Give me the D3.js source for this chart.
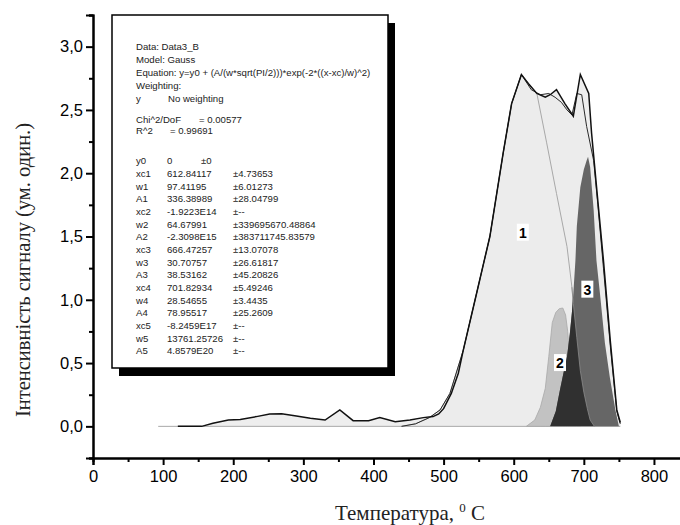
<!DOCTYPE html>
<html lang="uk">
<head>
<meta charset="UTF-8">
<script src="https://d3js.org/d3.v7.min.js"></script>
<style>
  body { margin: 0; background: #fff; }
  svg { display: block; }
</style>
</head>
<body>
<div id="chart"></div>
<script>
// measured curve (temperature, signal)
var dataT = [121, 155, 171, 193, 210, 233, 252, 269, 290, 310, 331, 352, 371, 393, 409, 431, 452, 471, 485, 493,
             500, 511, 521, 528, 547, 566, 585, 597, 611, 622, 633, 645, 652, 661, 673, 685, 695, 707, 711, 719,
             728, 738, 747, 752];
var dataY = [0, 0, 0.025, 0.05, 0.055, 0.077, 0.098, 0.10, 0.082, 0.064, 0.05, 0.13, 0.045, 0.045, 0.069, 0.037, 0.05, 0.069, 0.077, 0.098,
             0.14, 0.26, 0.42, 0.6, 1.05, 1.5, 2.16, 2.55, 2.78, 2.7, 2.63, 2.6, 2.62, 2.66, 2.55, 2.45, 2.78, 2.63, 2.32, 1.84,
             1.31, 0.66, 0.13, 0.03];

// cumulative fit
var fitT = [440, 460, 480, 495, 509, 528, 547, 566, 585, 597, 611, 625, 638, 650, 659, 668, 676, 683, 690, 697, 704, 714, 720, 728, 738, 747, 752];
var fitY = [0, 0.02, 0.07, 0.13, 0.26, 0.6, 1.05, 1.5, 2.16, 2.55, 2.78, 2.66, 2.62, 2.63, 2.6, 2.56, 2.5, 2.46, 2.63, 2.62, 2.37, 2.1, 1.75, 1.25, 0.62, 0.12, 0.02];

// peak 1
var p1T = [440, 460, 480, 495, 509, 528, 547, 566, 585, 597, 611, 633, 647, 661, 676, 683, 685, 690, 695, 700, 705, 709, 715];
var p1Y = [0, 0.02, 0.07, 0.13, 0.26, 0.6, 1.05, 1.5, 2.16, 2.55, 2.78, 2.63, 2.24, 1.84, 1.42, 1.10, 0.97, 0.7, 0.44, 0.27, 0.14, 0.05, 0];

// peak 2
var p2T = [618, 630, 638, 645, 650, 655, 660, 665, 670, 674, 677, 680, 683, 686, 690, 695];
var p2Y = [0, 0.05, 0.15, 0.3, 0.55, 0.82, 0.9, 0.93, 0.935, 0.88, 0.75, 0.55, 0.3, 0.12, 0.02, 0];

// peak 3
var p3T = [652, 660, 666, 672, 676, 680, 683, 685, 688, 690, 695, 700, 704, 706, 709, 714, 718, 723, 730, 737, 745, 750];
var p3Y = [0, 0.12, 0.29, 0.45, 0.55, 0.73, 0.9, 1.05, 1.31, 1.58, 1.89, 2.03, 2.10, 2.13, 2.05, 1.71, 1.31, 1.05, 0.66, 0.39, 0.13, 0];

var yTicks = [0, 0.5, 1, 1.5, 2, 2.5, 3];
var xTicks = [0, 100, 200, 300, 400, 500, 600, 700, 800];

var headerRows = [
  ["Data: Data3_B"],
  ["Model: Gauss"],
  ["Equation: y=y0 + (A/(w*sqrt(PI/2)))*exp(-2*((x-xc)/w)^2)"],
  ["Weighting:"],
  ["y", "No weighting"]
];
var statNames = ["Chi^2/DoF", "R^2"];
var statValues = ["= 0.00577", "= 0.99691"];
var parNames = ["y0", "xc1", "w1", "A1", "xc2", "w2", "A2", "xc3", "w3", "A3", "xc4", "w4", "A4", "xc5", "w5", "A5"];
var parValues = ["0", "612.84117", "97.41195", "336.38989", "-1.9223E14", "64.67991", "-2.3098E15", "666.47257",
                 "30.70757", "38.53162", "701.82934", "28.54655", "78.95517", "-8.2459E17", "13761.25726", "4.8579E20"];
var parErrors = ["\u00b10", "\u00b14.73653", "\u00b16.01273", "\u00b128.04799", "\u00b1--", "\u00b1339695670.48864",
                 "\u00b1383711745.83579", "\u00b113.07078", "\u00b126.61817", "\u00b145.20826", "\u00b15.49246",
                 "\u00b13.4435", "\u00b125.2609", "\u00b1--", "\u00b1--", "\u00b1--"];

var peakLabels = ["1", "2", "3"];
var peakLabelPos = [[613, 1.53], [666, 0.5], [705, 1.08]];

var W = 680, H = 525;
var svg = d3.select("#chart").append("svg").attr("width", W).attr("height", H);

var x = d3.scaleLinear().domain([0, 840]).range([93, 682]);
var y = d3.scaleLinear().domain([-0.25, 3.25]).range([458, 15]);

function pts(T, V) { return T.map(function (t, i) { return [t, V[i]]; }); }

var area = d3.area().x(function (d) { return x(d[0]); }).y0(y(0)).y1(function (d) { return y(d[1]); });
var line = d3.line().x(function (d) { return x(d[0]); }).y(function (d) { return y(d[1]); });

// light fill under the measured curve
svg.append("path").datum(pts(dataT, dataY)).attr("d", area).attr("fill", "#eeeeee");
svg.append("path").datum(pts(fitT, fitY)).attr("d", area).attr("fill", "#ececec");

// baseline
svg.append("line").attr("x1", x(93)).attr("x2", x(752)).attr("y1", y(0)).attr("y2", y(0))
  .attr("stroke", "#a8a8a8").attr("stroke-width", 1);

// peak 1 outline
svg.append("path").datum(pts(p1T, p1Y)).attr("d", line).attr("fill", "none").attr("stroke", "#a8a8a8").attr("stroke-width", 1);

// peak 2
svg.append("path").datum(pts(p2T, p2Y)).attr("d", area).attr("fill", "#c2c2c2").attr("stroke", "#a8a8a8").attr("stroke-width", 0.8);

// peak 3
svg.append("path").datum(pts(p3T, p3Y)).attr("d", area).attr("fill", "#666666");

// overlap of peak 3 with peak 1
svg.append("clipPath").attr("id", "p1clip").append("path").datum(pts(p1T, p1Y)).attr("d", area);
svg.append("path").datum(pts(p3T, p3Y)).attr("d", area).attr("fill", "#303030").attr("clip-path", "url(#p1clip)");
svg.append("path").datum(pts(p1T, p1Y).filter(function (d) { return d[0] >= 683; }))
  .attr("d", line).attr("fill", "none").attr("stroke", "#8a8a8a").attr("stroke-width", 0.8);

// fit and data
svg.append("path").datum(pts(fitT, fitY)).attr("d", line).attr("fill", "none").attr("stroke", "#2a2a2a").attr("stroke-width", 1);
svg.append("path").datum(pts(dataT, dataY)).attr("d", line).attr("fill", "none").attr("stroke", "#111").attr("stroke-width", 1.5);

// peak labels
peakLabels.forEach(function (t, i) {
  var cx = x(peakLabelPos[i][0]), cy = y(peakLabelPos[i][1]);
  svg.append("rect").attr("x", cx - 6).attr("y", cy - 9).attr("width", 12).attr("height", 17).attr("fill", "#fff");
  svg.append("text").attr("x", cx).attr("y", cy + 5).attr("text-anchor", "middle")
    .style("font-family", "Liberation Sans, Arial, sans-serif").style("font-weight", "bold").style("font-size", "14px")
    .text(t);
});

// axes
svg.append("g").attr("transform", "translate(93,0)")
  .call(d3.axisLeft(y).tickValues(yTicks).tickSize(7).tickPadding(3)
    .tickFormat(function (d) { return d3.format(".1f")(d).replace(".", ","); }));
svg.append("g").attr("transform", "translate(93,0)")
  .call(d3.axisLeft(y).tickValues(d3.range(-0.25, 3.3, 0.5)).tickSize(4).tickFormat(""));
svg.append("g").attr("transform", "translate(0,458)")
  .call(d3.axisBottom(x).tickValues(xTicks).tickSize(7).tickPadding(5).tickFormat(d3.format("d")));
svg.append("g").attr("transform", "translate(0,458)")
  .call(d3.axisBottom(x).tickValues(d3.range(50, 850, 100)).tickSize(4).tickFormat(""));

svg.selectAll(".domain").attr("stroke", "#000").attr("stroke-width", 2);
svg.selectAll(".tick line").attr("stroke", "#000").attr("stroke-width", 2);
svg.selectAll(".tick text").style("font-family", "Liberation Sans, Arial, sans-serif").style("font-size", "16.5px").attr("fill", "#000");

// axis titles
svg.append("text").attr("transform", "translate(30,270) rotate(-90)").attr("text-anchor", "middle")
  .style("font-family", "Liberation Serif, Times New Roman, serif").style("font-size", "20.5px").attr("fill", "#222")
  .text("Інтенсивність сигналу (ум. один.)");
var xt = svg.append("text").attr("x", 410).attr("y", 520).attr("text-anchor", "middle")
  .style("font-family", "Liberation Serif, Times New Roman, serif").style("font-size", "21px").attr("fill", "#222");
xt.append("tspan").text("Температура, ");
xt.append("tspan").attr("dy", -8).style("font-size", "13px").text("0");
xt.append("tspan").attr("dy", 8).text(" C");

// fit report box
svg.append("rect").attr("x", 119).attr("y", 23).attr("width", 276).attr("height", 353).attr("fill", "#000");
svg.append("rect").attr("x", 112).attr("y", 15).attr("width", 276).attr("height", 353)
  .attr("fill", "#fff").attr("stroke", "#000").attr("stroke-width", 1.5);

var box = svg.append("g").style("font-family", "Liberation Sans, Arial, sans-serif").style("font-size", "9.6px").attr("fill", "#222");
var headY = [46, 59, 72, 85, 98];
headerRows.forEach(function (r, i) {
  box.append("text").attr("x", 136).attr("y", headY[i] + 3.5).text(r[0]);
  if (r[1]) box.append("text").attr("x", 168).attr("y", headY[i] + 3.5).text(r[1]);
});
var statY = [119, 130];
var statX = [199, 170];
statNames.forEach(function (n, i) {
  box.append("text").attr("x", 136).attr("y", statY[i] + 3.5).text(n);
  box.append("text").attr("x", statX[i]).attr("y", statY[i] + 3.5).text(statValues[i]);
});
parNames.forEach(function (n, i) {
  var yy = 160.7 + i * 12.67 + 3.5;
  box.append("text").attr("x", 136).attr("y", yy).text(n);
  box.append("text").attr("x", 167).attr("y", yy).text(parValues[i]);
  box.append("text").attr("x", i === 0 ? 201 : 233).attr("y", yy).text(parErrors[i]);
});
</script>
</body>
</html>
